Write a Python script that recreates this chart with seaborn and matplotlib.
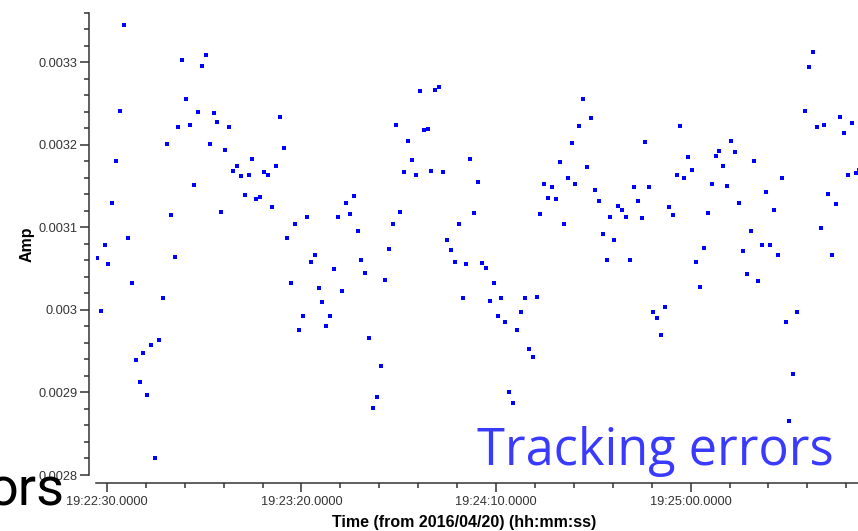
import numpy as np
import pandas as pd
import matplotlib
matplotlib.use("Agg")
import matplotlib.pyplot as plt
from matplotlib.ticker import MultipleLocator, FuncFormatter
import seaborn as sns

# Tracking-error amplitude, one sample per second
start_time = "19:22:26.4"
step_seconds = 1.0
date_label = "2016/04/20"
amp = [
    0.003194, 0.003063, 0.002999, 0.003079, 0.003055, 0.003130, 0.003180, 0.003241, 0.003345, 0.003087,
    0.003032, 0.002939, 0.002913, 0.002948, 0.002897, 0.002957, 0.002820, 0.002963, 0.003015, 0.003201,
    0.003115, 0.003064, 0.003221, 0.003303, 0.003255, 0.003224, 0.003151, 0.003240, 0.003295, 0.003309,
    0.003201, 0.003239, 0.003227, 0.003119, 0.003194, 0.003222, 0.003168, 0.003174, 0.003162, 0.003139,
    0.003163, 0.003183, 0.003134, 0.003137, 0.003167, 0.003163, 0.003125, 0.003174, 0.003234, 0.003196,
    0.003087, 0.003033, 0.003104, 0.002976, 0.002993, 0.003112, 0.003058, 0.003067, 0.003027, 0.003010,
    0.002980, 0.002993, 0.003049, 0.003112, 0.003023, 0.003130, 0.003116, 0.003138, 0.003096, 0.003060,
    0.003045, 0.002966, 0.002881, 0.002894, 0.002932, 0.003036, 0.003074, 0.003104, 0.003224, 0.003118,
    0.003167, 0.003205, 0.003181, 0.003164, 0.003265, 0.003218, 0.003219, 0.003168, 0.003266, 0.003270,
    0.003167, 0.003085, 0.003072, 0.003058, 0.003104, 0.003015, 0.003055, 0.003183, 0.003117, 0.003155,
    0.003057, 0.003051, 0.003011, 0.003033, 0.002992, 0.003015, 0.002985, 0.002901, 0.002887, 0.002976,
    0.002998, 0.003015, 0.002953, 0.002943, 0.003016, 0.003116, 0.003152, 0.003135, 0.003149, 0.003134,
    0.003179, 0.003104, 0.003160, 0.003202, 0.003152, 0.003223, 0.003255, 0.003173, 0.003232, 0.003145,
    0.003132, 0.003092, 0.003060, 0.003113, 0.003085, 0.003126, 0.003121, 0.003113, 0.003061, 0.003149,
    0.003132, 0.003111, 0.003203, 0.003149, 0.002998, 0.002990, 0.002970, 0.003004, 0.003125, 0.003115,
    0.003163, 0.003223, 0.003160, 0.003185, 0.003169, 0.003058, 0.003028, 0.003075, 0.003117, 0.003153,
    0.003187, 0.003193, 0.003174, 0.003150, 0.003205, 0.003191, 0.003130, 0.003071, 0.003044, 0.003095,
    0.003180, 0.003035, 0.003079, 0.003143, 0.003079, 0.003121, 0.003066, 0.003160, 0.002985, 0.002865,
    0.002922, 0.002998, np.nan, 0.003241, 0.003294, 0.003313, 0.003221, 0.003099, 0.003224, 0.003140,
    0.003066, 0.003128, 0.003234, 0.003214, 0.003163, 0.003226, 0.003166, 0.003170,
]

y_min, y_max = 0.0028, 0.00336
x_window = ("19:22:27.2", "19:25:46.1")


def to_seconds(hms):
    h, m, s = hms.split(":")
    return int(h) * 3600 + int(m) * 60 + float(s)


def fmt_time(v, pos=None):
    h = int(v // 3600)
    m = int((v % 3600) // 60)
    s = v - h * 3600 - m * 60
    return f"{h:02d}:{m:02d}:{s:07.4f}"


t0 = to_seconds(start_time)
df = pd.DataFrame({
    "t": t0 + step_seconds * np.arange(len(amp)),
    "Amp": amp,
})

sns.set_style("ticks")
plt.rcParams["font.family"] = ["Liberation Sans", "DejaVu Sans"]

fig = plt.figure(figsize=(8.58, 5.31), dpi=100)
W, H = 858.0, 531.0
ax = fig.add_axes([96 / W, 1 - 475 / H, 774 / W, (475 - 12.7) / H])

sns.scatterplot(data=df, x="t", y="Amp", ax=ax, marker="s", s=7.5,
                color="#0000ff", linewidth=0, legend=False)

ax.set_xlim(to_seconds(x_window[0]), to_seconds(x_window[1]))
ax.set_ylim(y_min, y_max)

ax.xaxis.set_major_locator(MultipleLocator(50))
ax.xaxis.set_minor_locator(MultipleLocator(10))
ax.xaxis.set_major_formatter(FuncFormatter(fmt_time))
ax.yaxis.set_major_locator(MultipleLocator(0.0001))
ax.yaxis.set_minor_locator(MultipleLocator(0.00002))
ax.yaxis.set_major_formatter(FuncFormatter(lambda v, p: f"{v:.4f}".rstrip("0")))

for side in ("top", "right"):
    ax.spines[side].set_visible(False)
ax.spines["left"].set_position(("outward", 5.0))
ax.spines["bottom"].set_position(("outward", 5.6))
for side in ("left", "bottom"):
    ax.spines[side].set_color("#333333")
    ax.spines[side].set_linewidth(1.1)

ax.tick_params(which="major", length=6.5, width=1.1, color="#333333",
               labelsize=9.2, labelcolor="#333333")
ax.tick_params(which="minor", length=3.3, width=1.1, color="#333333")
ax.tick_params(axis="y", which="major", pad=2)
ax.tick_params(axis="x", which="major", pad=3)

ax.set_ylabel("Amp", fontsize=11.5, fontweight="bold", color="black")
ax.set_xlabel(f"Time (from {date_label}) (hh:mm:ss)", fontsize=11.5,
              fontweight="bold", color="black")
ax.yaxis.set_label_coords((27 - 96) / 774, 0.5)
ax.xaxis.set_label_coords((464 - 96) / 774, (475 - 522) / (475 - 12.7))
ax.xaxis.label.set_va("center")
ax.yaxis.label.set_va("center")

fig.text(477 / W, 1 - 465 / H, "Tracking errors", fontsize=36.4,
         family=["Open Sans", "DejaVu Sans"], color="#3a3aff",
         ha="left", va="baseline")
fig.text(-12 / W, 1 - 505 / H, "ors", fontsize=39,
         family=["Roboto", "DejaVu Sans"], color="black",
         ha="left", va="baseline")

fig.savefig("out.png", dpi=100)
